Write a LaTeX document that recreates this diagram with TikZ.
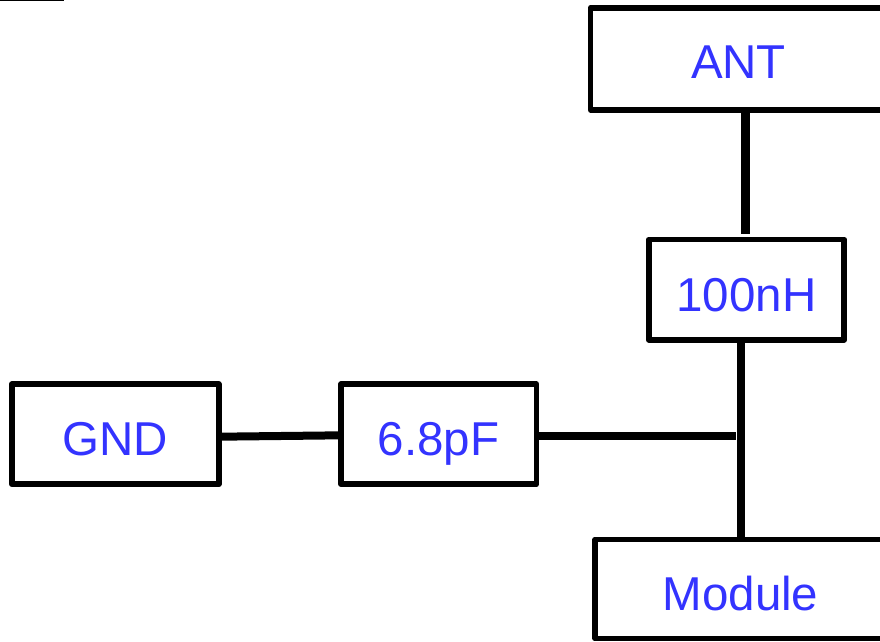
\documentclass[tikz,border=0pt]{standalone}
\usepackage{fontspec}
\setmainfont{Liberation Sans}
\definecolor{labelblue}{HTML}{3333FF}
\tikzset{
  partbox/.style={draw=black, line width=5.6pt, line join=round, rectangle, outer sep=0pt, inner sep=0pt,
    text=labelblue, font=\fontsize{47.5}{48}\selectfont, text height=43pt, text depth=0pt, fill=white},
  wire/.style={draw=black, line width=8pt, line cap=butt},
  thickwire/.style={draw=black, line width=9pt, line cap=butt},
  rulemark/.style={draw=black, line width=1.2pt}
}
\begin{document}
\begin{tikzpicture}[x=1pt,y=-1pt]
\useasboundingbox (0,0) rectangle (880,641);
\clip (0,0) rectangle (880,641);
\fill[white] (0,0) rectangle (880,641);
% free ends of connectors
\coordinate (ruleA) at (0,0.5);
\coordinate (ruleB) at (64,0.5);
\coordinate (antEnd) at (745.5,234);
\coordinate (junction) at (736,435.5);
\coordinate (trunk) at (740.5,435.5);
\coordinate (gndOut) at (218.5,436.7);
\coordinate (capIn) at (341.5,435.3);
% connectors
\draw[rulemark] (ruleA) -- (ruleB);
% boxes
\node[partbox, minimum width=296pt, minimum height=102pt, text height=39pt] (ANT) at (738.5,58.7) {ANT};
\node[partbox, minimum width=195.5pt, minimum height=100.5pt] (L) at (746.5,289.7) {100nH};
\node[partbox, minimum width=207pt, minimum height=100pt] (GND) at (115.3,434.2) {GND};
\node[partbox, minimum width=195.5pt, minimum height=100pt] (C) at (438.7,434.2) {6.8pF};
\node[partbox, minimum width=291pt, minimum height=99pt] (M) at (740.5,589) {Module};
% wires
\draw[thickwire] (antEnd |- ANT.south) -- (antEnd);
\draw[wire] (trunk |- L.south) -- (trunk |- M.north);
\draw[wire] (C.east |- junction) -- (junction);
\draw[wire] (gndOut) -- (capIn);
\end{tikzpicture}
\end{document}
